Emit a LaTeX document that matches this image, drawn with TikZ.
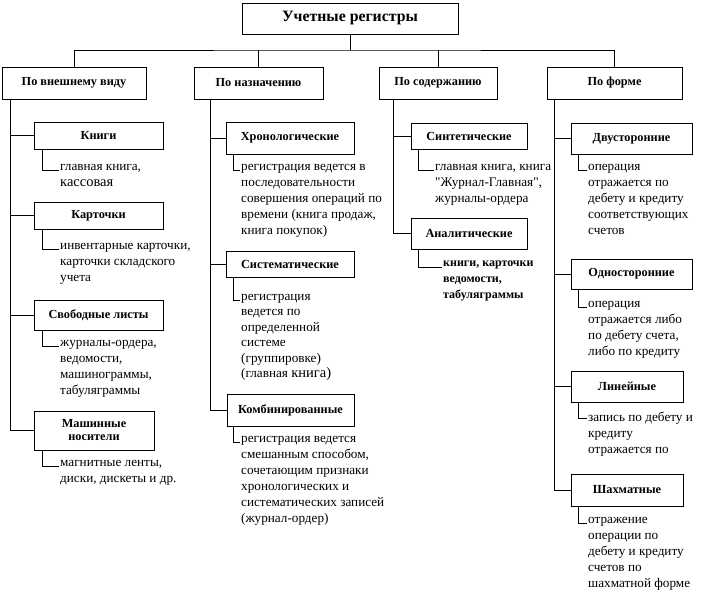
\documentclass[tikz,border=0pt]{standalone}
\usepackage{fontspec}
\setmainfont{Liberation Serif}
\usetikzlibrary{calc}
\tikzset{
  box/.style={draw, line width=0.9pt, inner sep=0pt, align=center, font=\bfseries\fontsize{12.3}{13}\selectfont},
  txt/.style={anchor=north west, inner sep=0pt, align=left, font=\fontsize{13.2}{16}\selectfont},
  btxt/.style={txt, font=\bfseries\fontsize{12}{16}\selectfont},
  ln/.style={draw, line width=0.9pt},
}
\begin{document}
\begin{tikzpicture}[x=1pt,y=-1pt]
\useasboundingbox (0,0) rectangle (702,613);
% top
\node[box, minimum width=216, minimum height=31, font=\bfseries\fontsize{15.8}{17}\selectfont] (title) at (350,18.5) {Учетные регистры};
\node[box, minimum width=144, minimum height=32] (c1) at (74,83) {По внешнему виду};
\node[box, minimum width=129, minimum height=32] (c2) at (258.5,83) {По назначению};
\node[box, minimum width=118, minimum height=32] (c3) at (438,83) {По содержанию};
\node[box, minimum width=135, minimum height=32] (c4) at (614.5,83) {По форме};
\coordinate (bus) at (350,50);
\draw[ln] (title.south) -- (bus);
\draw[ln] (c1.north) |- (bus) -| (c4.north);
\draw[ln] (c2.north) -- (c2.north |- bus);
\draw[ln] (c3.north) -- (c3.north |- bus);

% column 1
\node[box, minimum width=129, minimum height=27] (kn) at (98.5,135.5) {Книги};
\node[box, minimum width=129, minimum height=27] (kart) at (98.5,215.5) {Карточки};
\node[box, minimum width=129, minimum height=30] (svob) at (98.5,315) {Свободные листы};
\node[box, minimum width=120, minimum height=39] (mash) at (94,430.5) {Машинные\\носители};
\node[txt] (t11) at (60,164) {главная книга,\\{\fontsize{14.5}{16}\selectfont кассовая}};
\node[txt] (t12) at (60,243) {инвентарные карточки,\\карточки складского\\учета};
\node[txt] (t13) at (60,340) {журналы-ордера,\\ведомости,\\машинограммы,\\табуляграммы};
\node[txt] (t14) at (60,460) {магнитные ленты,\\диски, дискеты и др.};
\coordinate (s1) at ($(c1.south west)+(9,0)$);
\draw[ln] (s1) |- (mash.west);
\foreach \b in {kn,kart,svob} \draw[ln] (s1 |- \b.west) -- (\b.west);
\draw[ln] ($(kn.south west)+(9,0)$) |- ($(t11.north west)+(-1,6)$);
\draw[ln] ($(kart.south west)+(9,0)$) |- ($(t12.north west)+(-1,6)$);
\draw[ln] ($(svob.south west)+(9,0)$) |- ($(t13.north west)+(-1,6)$);
\draw[ln] ($(mash.south west)+(9,0)$) |- ($(t14.north west)+(-1,6)$);

% column 2
\node[box, minimum width=128, minimum height=32] (xr) at (290,138) {Хронологические};
\node[box, minimum width=128, minimum height=26] (sist) at (290,264) {Систематические};
\node[box, minimum width=127, minimum height=32] (komb) at (290.5,410) {Комбинированные};
\node[txt] (t21) at (241,164) {регистрация ведется в\\последовательности\\совершения операций по\\времени (книга продаж,\\книга покупок)};
\node[txt, font=\fontsize{13.2}{15.5}\selectfont] (t22) at (241,294) {регистрация\\ведется по\\определенной\\системе\\(группировке)\\(главная {\fontsize{14.5}{15.5}\selectfont книга)}};
\node[txt] (t23) at (241,436) {регистрация ведется\\смешанным способом,\\сочетающим признаки\\хронологических и\\систематических записей\\(журнал-ордер)};
\coordinate (s2) at ($(c2.south west)+(17,0)$);
\draw[ln] (s2) |- (komb.west);
\foreach \b in {xr,sist} \draw[ln] (s2 |- \b.west) -- (\b.west);
\draw[ln] ($(xr.south west)+(8,0)$) |- ($(t21.north west)+(-1,6)$);
\draw[ln] ($(sist.south west)+(8,0)$) |- ($(t22.north west)+(-1,6)$);
\draw[ln] ($(komb.south west)+(7,0)$) |- ($(t23.north west)+(-1,6)$);

% column 3
\node[box, minimum width=116, minimum height=26] (sint) at (469,136) {Синтетические};
\node[box, minimum width=116, minimum height=31] (anal) at (469,233.5) {Аналитические};
\node[txt] (t31) at (435,164) {главная книга, книга\\\textquotedbl Журнал-Главная\textquotedbl,\\журналы-ордера};
\node[btxt] (t32) at (443,261) {книги, карточки\\ведомости,\\табуляграммы};
\coordinate (s3) at ($(c3.south west)+(15,0)$);
\draw[ln] (s3) |- (anal.west);
\draw[ln] (s3 |- sint.west) -- (sint.west);
\draw[ln] ($(sint.south west)+(8,0)$) |- ($(t31.north west)+(-1,6)$);
\draw[ln] ($(anal.south west)+(8,0)$) |- ($(t32.north west)+(-1,6)$);

% column 4
\node[box, minimum width=121, minimum height=31] (dv) at (631.5,138.5) {Двусторонние};
\node[box, minimum width=121, minimum height=30] (od) at (631.5,274) {Односторонние};
\node[box, minimum width=112, minimum height=31] (lin) at (627,386.5) {Линейные};
\node[box, minimum width=112, minimum height=32] (sh) at (627,490) {Шахматные};
\node[txt] (t41) at (588,164) {операция\\отражается по\\дебету и кредиту\\соответствующих\\счетов};
\node[txt] (t42) at (588,301) {операция\\отражается либо\\по дебету счета,\\либо по кредиту};
\node[txt] (t43) at (588,412) {запись по дебету и\\кредиту\\отражается по};
\node[txt] (t44) at (588,517) {отражение\\операции по\\дебету и кредиту\\счетов по\\шахматной форме};
\coordinate (s4) at ($(c4.south west)+(8,0)$);
\draw[ln] (s4) |- (sh.west);
\foreach \b in {dv,od,lin} \draw[ln] (s4 |- \b.west) -- (\b.west);
\draw[ln] ($(dv.south west)+(8,0)$) |- ($(t41.north west)+(-1,6)$);
\draw[ln] ($(od.south west)+(8,0)$) |- ($(t42.north west)+(-1,6)$);
\draw[ln] ($(lin.south west)+(8,0)$) |- ($(t43.north west)+(-1,6)$);
\draw[ln] ($(sh.south west)+(8,0)$) |- ($(t44.north west)+(-1,6)$);
\end{tikzpicture}
\end{document}
